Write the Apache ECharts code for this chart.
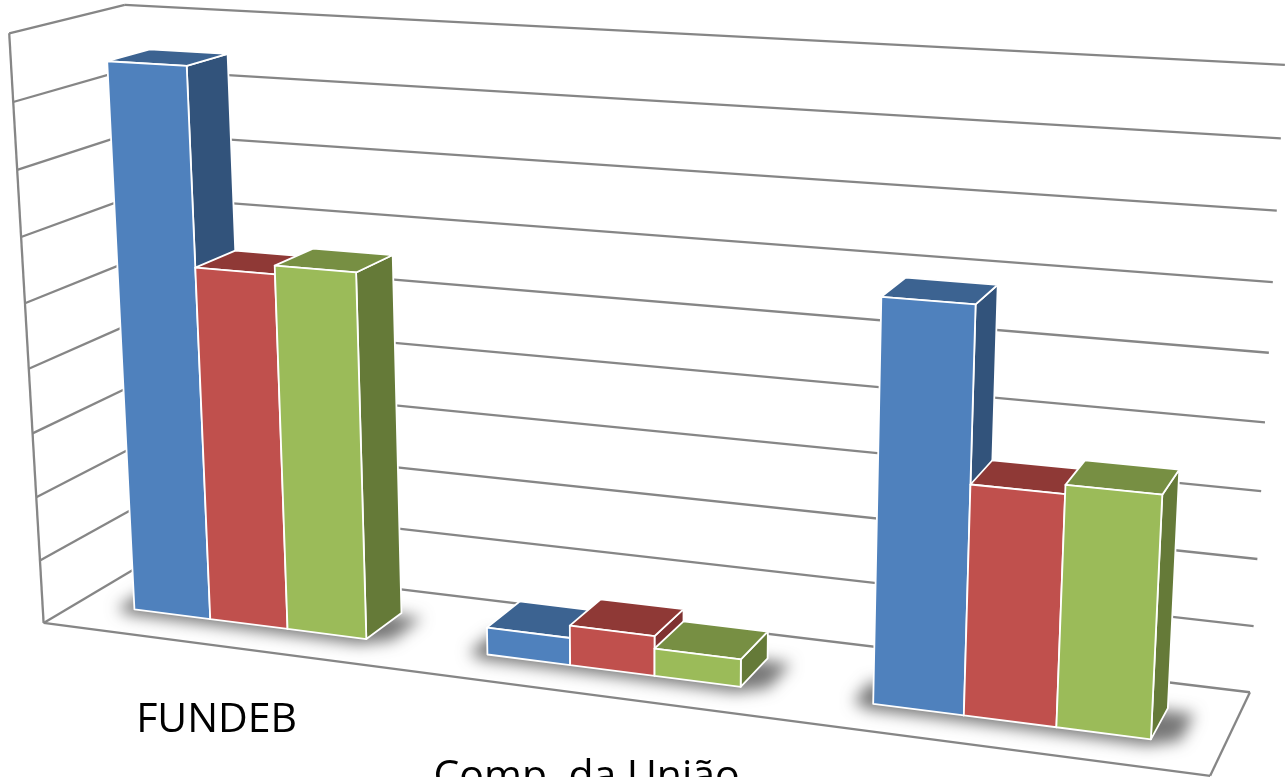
<!DOCTYPE html>
<html>
<head>
<meta charset="utf-8">
<style>html,body{margin:0;padding:0;background:#fff;overflow:hidden}#c{width:1286px;height:777px}#c canvas{filter:blur(0.5px)}</style>
<script src="https://cdn.jsdelivr.net/npm/echarts@6/dist/echarts.min.js"></script>
</head>
<body>
<div id="c"></div>
<script>
// ---- data (heights read in units of the gridline spacing) ----
var categories = ['FUNDEB', 'Comp. da União', ''];
var seriesNames = ['Série 1', 'Série 2', 'Série 3'];
var blueValues  = [8.5, 0.42, 5.9];
var redValues   = [5.5, 0.61, 3.37];
var greenValues = [5.63, 0.42, 3.5];
var yTicks = [0, 1, 2, 3, 4, 5, 6, 7, 8, 9];

// ---- look ----
var palette = [
  {front:'#4F81BD', top:'#3C6391', side:'#32537B'},
  {front:'#C0504D', top:'#8F3936', side:'#7F3231'},
  {front:'#9BBB59', top:'#778F43', side:'#657A38'}
];
var GRID = '#868686', CLUSTER = 2/3, Z0 = 0.31, Z1 = 0.69, SHADOW_SHIFT = 3000;

// ---- perspective camera fitted to the box corners of the plot ----
// [world x, y, z, screen u, v]
var calibration = [
  [0,0,0,43,623],[0,1,0,10,33],[0,1,1,124,5],[0,0,1,152,559],
  [1,0,0,1210,776],[1,0,1,1250,692],[1,1,1,1285,65]
];
function fitCamera(c){
  var n=11,A=[],b=[],i,j,k;
  for(i=0;i<n;i++){A.push(new Array(n).fill(0));b.push(0);}
  function add(r,y){for(var a=0;a<n;a++){b[a]+=r[a]*y;for(var d=0;d<n;d++)A[a][d]+=r[a]*r[d];}}
  c.forEach(function(p){
    var X=p[0],Y=p[1],Z=p[2],u=p[3],v=p[4];
    add([X,Y,Z,1,0,0,0,0,-u*X,-u*Y,-u*Z],u);
    add([0,0,0,0,X,Y,Z,1,-v*X,-v*Y,-v*Z],v);
  });
  for(i=0;i<n;i++){A[i][i]+=1e-9;}
  for(i=0;i<n;i++){
    var m=i;for(k=i+1;k<n;k++)if(Math.abs(A[k][i])>Math.abs(A[m][i]))m=k;
    var t=A[i];A[i]=A[m];A[m]=t;t=b[i];b[i]=b[m];b[m]=t;
    for(k=i+1;k<n;k++){var f=A[k][i]/A[i][i];for(j=i;j<n;j++)A[k][j]-=f*A[i][j];b[k]-=f*b[i];}
  }
  var s=new Array(n);
  for(i=n-1;i>=0;i--){var q=b[i];for(j=i+1;j<n;j++)q-=A[i][j]*s[j];s[i]=q/A[i][i];}
  return s;
}
var cam = fitCamera(calibration);
function project(x,y,z){
  var w=cam[8]*x+cam[9]*y+cam[10]*z+1;
  return [(cam[0]*x+cam[1]*y+cam[2]*z+cam[3])/w,(cam[4]*x+cam[5]*y+cam[6]*z+cam[7])/w];
}
function world(params,api,cat,val){
  var g=params.coordSys,p=api.coord([cat,val]);
  return {x:(p[0]-g.x)/g.width,y:(g.y+g.height-p[1])/g.height,band:api.size([1,0])[0]/g.width};
}
function poly(pts,fill,extra){
  var st={fill:fill};
  if(extra)for(var k in extra)st[k]=extra[k];
  return {type:'polygon',shape:{points:pts},style:st};
}
function line(a,b){
  return {type:'line',shape:{x1:a[0],y1:a[1],x2:b[0],y2:b[1]},style:{stroke:GRID,lineWidth:2.3,fill:null}};
}

function renderWalls(params,api){
  var w=world(params,api,0,api.value(0)),y=w.y,kids=[];
  kids.push(line(project(0,y,0),project(0,y,1)));
  kids.push(line(project(0,y,1),project(1,y,1)));
  if(params.dataIndex===0){
    kids.push(line(project(0,0,0),project(1,0,0)));
    kids.push(line(project(1,0,0),project(1,0,1)));
    kids.push(line(project(0,0,0),project(0,1,0)));
  }
  return {type:'group',children:kids};
}
// soft floor shadow: only the blur of an off-canvas polygon lands on the plot
function renderShadow(params,api){
  var w=world(params,api,api.value(0),0),half=w.band*CLUSTER/2,a=w.x-half,b=w.x+half;
  var pts=[
    project(a-0.016,0,Z1-0.13),project(a-0.016,0,Z0-0.005),project(a,0,Z0-0.07),
    project(b,0,Z0-0.07),project(b+0.022,0,Z0+0.03),project(b+0.022,0,Z1-0.03),project(b,0,Z1-0.03)
  ].map(function(p){return [p[0]-SHADOW_SHIFT,p[1]];});
  return poly(pts,'#000',{shadowBlur:15,shadowColor:'rgba(85,85,85,0.8)',shadowOffsetX:SHADOW_SHIFT});
}
function renderBars(idx){
  return function(params,api){
    var cat=api.value(0),w=world(params,api,cat,api.value(1));
    var bw=w.band*CLUSTER/3,x0=w.x-1.5*bw+idx*bw,x1=x0+bw,y=w.y,c=palette[idx];
    var edge={stroke:'#fff',lineWidth:1.8,lineJoin:'round'};
    return {type:'group',children:[
      poly([project(x1,0,Z0),project(x1,0,Z1),project(x1,y,Z1),project(x1,y,Z0)],c.side,edge),
      poly([project(x0,y,Z0),project(x1,y,Z0),project(x1,y,Z1),project(x0,y,Z1)],c.top,edge),
      poly([project(x0,0,Z0),project(x1,0,Z0),project(x1,y,Z0),project(x0,y,Z0)],c.front,edge)
    ]};
  };
}
function renderLabel(params,api){
  var i=api.value(0),w=world(params,api,i,0),p=project(w.x,0,0);
  return {type:'text',style:{x:p[0],y:p[1]+75+i*8,text:categories[i],fill:'#000',
    font:'41px "Open Sans"',align:'center',verticalAlign:'middle'}};
}
function pairs(vals){return vals.map(function(v,i){return [i,v];});}

var option = {
  animation:false,
  backgroundColor:'#fff',
  grid:{left:0,right:0,top:0,bottom:0,containLabel:false},
  xAxis:{type:'category',data:categories,show:false},
  yAxis:{type:'value',min:0,max:9,interval:1,show:false},
  series:[
    {type:'custom',silent:true,clip:false,renderItem:renderWalls,data:yTicks.map(function(t){return [t];}),encode:{y:0}},
    {type:'custom',silent:true,clip:false,renderItem:renderShadow,data:categories.map(function(c,i){return [i];}),encode:{x:0}},
    {type:'custom',name:seriesNames[0],silent:true,clip:false,renderItem:renderBars(0),data:pairs(blueValues),encode:{x:0,y:1}},
    {type:'custom',name:seriesNames[1],silent:true,clip:false,renderItem:renderBars(1),data:pairs(redValues),encode:{x:0,y:1}},
    {type:'custom',name:seriesNames[2],silent:true,clip:false,renderItem:renderBars(2),data:pairs(greenValues),encode:{x:0,y:1}},
    {type:'custom',silent:true,clip:false,renderItem:renderLabel,data:categories.map(function(c,i){return [i];}),encode:{x:0}}
  ]
};
echarts.init(document.getElementById('c')).setOption(option);
</script>
</body>
</html>
